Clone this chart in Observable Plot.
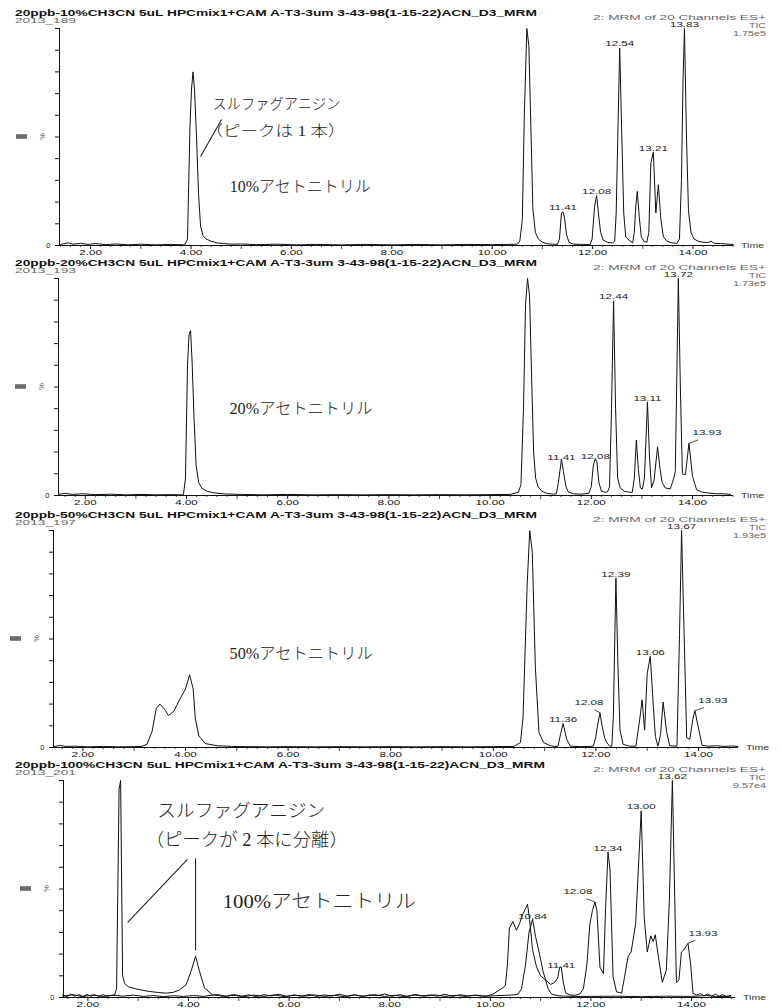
<!DOCTYPE html>
<html>
<head>
<meta charset="utf-8">
<script src="https://cdn.jsdelivr.net/npm/d3@7"></script>
<script src="https://cdn.jsdelivr.net/npm/@observablehq/plot@0.6"></script>
<style>
  html, body { margin: 0; padding: 0; background: #fff; }
  #chart { position: relative; width: 782px; height: 1008px; overflow: hidden; }
  .panel { position: absolute; left: 0; width: 782px; }
</style>
</head>
<body>
<div id="chart"></div>
<script>
// ---------- run headers ----------
const titles = [
  "20ppb-10%CH3CN 5uL HPCmix1+CAM A-T3-3um 3-43-98(1-15-22)ACN_D3_MRM",
  "20ppb-20%CH3CN 5uL HPCmix1+CAM A-T3-3um 3-43-98(1-15-22)ACN_D3_MRM",
  "20ppb-50%CH3CN 5uL HPCmix1+CAM A-T3-3um 3-43-98(1-15-22)ACN_D3_MRM",
  "20ppb-100%CH3CN 5uL HPCmix1+CAM A-T3-3um 3-43-98(1-15-22)ACN_D3_MRM"
];
const runIds = ["2013_189", "2013_193", "2013_197", "2013_201"];
const ticMax = ["1.75e5", "1.73e5", "1.93e5", "9.57e4"];
const solvents = ["10%アセトニトリル", "20%アセトニトリル", "50%アセトニトリル", "100%アセトニトリル"];
const xTickLabels = [2, 4, 6, 8, 10, 12, 14];

// ---------- TIC traces: [retention time (min), relative intensity (%)] ----------
const tic10 = [
  [1.40,0.5],[1.55,1.2],[1.65,0.6],[1.80,1.0],[1.95,0.5],[2.10,0.9],[2.30,0.4],[2.50,0.7],[2.75,0.3],[3.00,0.6],[3.30,0.3],[3.60,0.5],[3.88,0.3],
  [3.93,3],[3.98,55],[4.01,72],[4.04,80],[4.07,72],[4.11,50],[4.15,24],[4.19,9],[4.24,4.5],[4.30,3],[4.40,2],[4.52,1.2],[4.65,0.9],[4.80,0.6],
  [5.00,0.7],[5.30,0.4],[5.70,0.6],[6.10,0.3],[6.50,0.5],[7.00,0.3],[7.50,0.5],[8.00,0.3],[8.50,0.5],[9.00,0.3],[9.50,0.5],[10.00,0.4],[10.30,0.5],[10.50,0.6],
  [10.55,2],[10.60,12],[10.64,60],[10.69,100],[10.73,92],[10.77,55],[10.81,17],[10.86,6],[10.92,3],[11.00,1.5],[11.10,0.8],[11.20,0.6],[11.30,0.5],
  [11.34,3],[11.38,15],[11.41,15.5],[11.44,13],[11.48,5],[11.53,1.5],[11.62,0.6],[11.80,0.5],[11.95,0.4],
  [11.99,3],[12.04,18],[12.08,23],[12.12,14],[12.16,6],[12.21,2.5],[12.30,1.4],[12.40,1.2],
  [12.44,2],[12.47,15],[12.50,48],[12.54,91],[12.58,52],[12.62,15],[12.66,4],[12.72,2.5],[12.80,1.2],
  [12.83,6],[12.86,18],[12.89,25],[12.93,13],[12.97,4],[13.02,2],[13.08,1.5],
  [13.12,6],[13.16,38],[13.21,43],[13.26,15],[13.31,28],[13.36,12],[13.41,4],[13.48,2],[13.58,1.2],[13.68,1],
  [13.73,3],[13.77,30],[13.80,75],[13.83,100],[13.87,50],[13.91,16],[13.96,6],[14.02,3],[14.10,2],[14.20,1.5],[14.30,1.4],[14.36,2.0],[14.42,1.0],[14.55,0.9],[14.70,0.6],[14.80,0.5]
];

const tic20 = [
  [1.47,0.5],[1.60,1.0],[1.75,0.5],[1.95,0.8],[2.20,0.4],[2.50,0.6],[2.80,0.3],[3.10,0.5],[3.40,0.3],[3.70,0.4],[3.90,0.3],
  [3.94,0.5],[3.98,8],[4.02,60],[4.05,74],[4.08,76],[4.11,62],[4.15,35],[4.19,14],[4.24,6],[4.30,3.5],[4.40,2],[4.55,1.2],[4.75,0.7],
  [5.10,0.5],[5.50,0.3],[6.00,0.5],[6.50,0.3],[7.00,0.4],[7.50,0.3],[8.00,0.4],[8.50,0.3],[9.00,0.4],[9.50,0.3],[10.00,0.4],[10.40,0.5],
  [10.56,1.5],[10.61,5],[10.66,40],[10.70,88],[10.74,100],[10.78,92],[10.82,55],[10.86,20],[10.90,8],[10.95,4],[11.02,2],[11.12,1],[11.25,0.6],
  [11.31,0.8],[11.35,6],[11.41,16.7],[11.45,11],[11.50,4],[11.55,1.5],[11.65,0.8],[11.80,0.6],[11.95,1],
  [12.00,4],[12.04,14],[12.08,17],[12.11,15.5],[12.15,6],[12.20,2],[12.26,1.5],[12.32,1.6],
  [12.36,4],[12.40,40],[12.44,89.7],[12.48,40],[12.52,8],[12.57,3.5],[12.65,2],[12.75,1.5],[12.81,1.5],
  [12.85,8],[12.89,25.5],[12.93,12],[12.97,3.5],[13.01,3],
  [13.05,8],[13.11,43],[13.15,18],[13.19,3.5],[13.24,7],[13.31,22.5],[13.36,12],[13.40,6],[13.46,3.5],[13.56,3],
  [13.63,8],[13.66,11],[13.69,55],[13.72,100],[13.76,50],[13.80,10],[13.86,9.6],[13.93,24],[14.00,8.8],[14.08,2.7],[14.20,1.5],[14.30,1.2],[14.45,0.8],[14.60,0.8],[14.75,0.5]
];

const tic50 = [
  [1.43,0.4],[1.55,1.0],[1.65,0.5],[1.85,0.6],[2.10,0.3],[2.40,0.5],[2.70,0.3],[3.00,0.4],[3.15,0.5],
  [3.25,1.5],[3.35,7.5],[3.43,18],[3.50,20],[3.58,18],[3.67,14.8],[3.77,16.6],[3.90,22.7],[4.00,27],[4.08,33.5],[4.15,27],[4.19,13.6],[4.26,5.3],[4.39,1.8],[4.62,0.8],[4.90,0.5],
  [5.20,0.4],[5.60,0.3],[6.00,0.4],[6.50,0.3],[7.00,0.4],[7.50,0.3],[8.00,0.4],[8.50,0.3],[9.00,0.4],[9.50,0.3],[10.00,0.4],[10.40,0.5],
  [10.53,2.3],[10.58,14],[10.66,75],[10.71,100],[10.76,90],[10.82,37],[10.89,7],[10.98,2.3],[11.11,0.8],[11.20,0.5],
  [11.26,0.6],[11.31,6],[11.36,11],[11.40,7],[11.43,3.8],[11.50,0.6],[11.70,0.4],[11.90,0.5],
  [11.95,0.6],[12.00,5],[12.03,10],[12.08,16],[12.12,10],[12.17,4.5],[12.21,2.3],[12.27,0.6],
  [12.31,0.5],[12.34,14],[12.39,78],[12.43,37],[12.47,8],[12.53,1.5],[12.65,0.6],[12.78,0.6],
  [12.86,14],[12.90,22],[12.95,8],[13.00,34],[13.06,42],[13.12,19],[13.16,5],[13.21,0.6],[13.26,6],[13.31,21],[13.38,7],[13.44,0.8],[13.58,0.6],
  [13.63,52],[13.67,100],[13.72,52],[13.77,4.5],[13.83,3.8],[13.89,13],[13.93,17],[13.99,10],[14.07,1],[14.20,0.6],[14.35,0.8],[14.50,0.5],[14.65,0.7],[14.77,0.5]
];

const tic100 = [
  [1.50,1.2],[1.58,0.4],[1.66,1.5],[1.74,0.6],[1.82,1.3],[1.90,0.5],[1.98,1.4],[2.06,0.6],[2.14,1.2],[2.22,0.5],[2.30,1.3],[2.38,0.6],[2.46,1.0],
  [2.53,1.2],[2.57,4],[2.62,96],[2.65,100],[2.67,55],[2.69,10],[2.73,6.5],[2.80,5],[2.90,4.3],[3.05,3.5],[3.22,2.8],[3.40,2.3],[3.56,2],[3.70,2.4],[3.82,3.5],[3.95,5.8],
  [4.05,12],[4.14,19],[4.22,12],[4.32,4.3],[4.48,1.2],
  [4.60,1.3],[4.75,0.5],[4.90,1.4],[5.05,0.6],[5.20,1.2],[5.35,0.4],[5.50,1.3],[5.65,0.7],[5.80,1.5],[5.95,0.5],[6.10,1.2],[6.25,0.6],[6.40,1.4],[6.55,0.5],[6.70,1.2],[6.85,0.7],
  [7.00,1.5],[7.15,0.6],[7.30,1.3],[7.45,0.5],[7.60,1.2],[7.75,0.8],[7.90,1.6],[8.05,0.6],[8.20,1.3],[8.35,0.5],[8.50,1.4],[8.65,0.7],[8.80,1.2],[8.95,0.6],[9.10,1.5],[9.25,0.5],
  [9.40,1.3],[9.55,0.7],[9.70,1.0],[9.85,0.6],[9.95,0.8],
  [10.05,1.5],[10.15,3],[10.25,4.5],[10.30,5.5],[10.34,15],[10.38,32],[10.45,35],[10.52,31],[10.58,34],[10.64,38],[10.70,41],[10.74,43],[10.78,36],[10.84,22],[10.92,14],[11.00,10],
  [11.10,8],[11.20,6],[11.28,7],[11.34,9],[11.38,14],[11.41,14],[11.45,7],[11.50,2],[11.58,1.2],[11.68,1],[11.78,1.6],
  [11.85,4],[11.92,15],[11.98,34],[12.03,40],[12.08,44],[12.12,40],[12.18,14],[12.25,11],[12.29,40],[12.34,67],[12.38,59],[12.44,9.6],[12.51,2.6],[12.61,2],
  [12.67,9.6],[12.74,19],[12.80,21],[12.89,34],[13.00,86],[13.06,37],[13.12,21],[13.19,28.4],[13.24,25.8],[13.28,28.9],[13.34,19],[13.42,7],[13.50,12.7],[13.56,45],
  [13.62,100],[13.70,7],[13.75,8],[13.80,21],[13.85,22],[13.93,25],[13.98,16],[14.03,2],
  [14.10,1.2],[14.18,1.8],[14.25,0.8],[14.32,1.6],[14.40,0.7],[14.48,1.5],[14.55,0.6],[14.62,1.3],[14.70,0.5],[14.78,0.9]
];

// second trace of the 100% run (overlaid channel)
const tic100b = [
  [1.50,0.6],[1.70,1.3],[1.90,0.4],[2.10,1.2],[2.30,0.5],[2.50,1.0],[2.70,0.6],[2.90,1.1],[3.10,0.5],[3.30,0.9],[3.50,0.4],[3.70,0.8],[3.90,0.5],[4.10,0.9],[4.30,0.5],
  [4.50,1.2],[4.70,0.5],[4.90,1.0],[5.10,0.4],[5.30,1.1],[5.50,0.5],[5.70,1.2],[5.90,0.4],[6.10,1.0],[6.30,0.6],[6.50,1.2],[6.70,0.5],[6.90,1.0],[7.10,0.4],[7.30,1.1],
  [7.50,0.6],[7.70,1.3],[7.90,0.5],[8.10,1.0],[8.30,0.4],[8.50,1.1],[8.70,0.6],[8.90,1.2],[9.10,0.5],[9.30,1.0],[9.50,0.5],[9.70,1.1],[9.90,0.6],[10.10,0.8],[10.30,1.0],
  [10.45,1.2],[10.55,1.5],[10.62,4],[10.70,15],[10.77,30],[10.84,36],[10.90,28],[10.96,22],[11.05,12],[11.15,4],[11.22,1.5],[11.35,0.8],[11.50,0.6],[11.70,0.5],
  [12.00,0.5],[12.50,0.6],[13.00,0.4],[13.50,0.6],[14.00,0.5],[14.30,0.9],[14.50,0.4],[14.78,0.6]
];

// labelled retention times
const peaks10 = [11.41, 12.08, 12.54, 13.21, 13.83];
const peaks20 = [11.41, 12.08, 12.44, 13.11, 13.72, 13.93];
const peaks50 = [11.36, 12.08, 12.39, 13.06, 13.67, 13.93];
const peaks100 = [10.84, 11.41, 12.08, 12.34, 13.00, 13.62, 13.93];

// ---------- layout ----------
const W = 782, H = 263, MT = 28, MB = 18;
const plotH = H - MT - MB;              // 217 px for 0–100 %
const pxPct = plotH / 100;
const frames = [
  {top: 0,   left: 59, right: 733, x4: 190.5, ppm: 50.2},
  {top: 250, left: 58, right: 733, x4: 186,   ppm: 50.6},
  {top: 502, left: 53, right: 738, x4: 185,   ppm: 51.3},
  {top: 752, left: 63, right: 735, x4: 188,   ppm: 50.3}
];
// label offsets in px (shifted labels get a leader line back to the apex)
const labelShift = {
  "1:13.93": [18, -7],
  "2:12.08": [-11, -6],
  "2:13.93": [18, -6],
  "3:12.08": [-17, -6.5],
  "3:13.93": [15, -6],
  "3:10.84": [0, 1],
  "3:11.41": [0, 2],
  "1:11.41": [0, 2],
  "1:12.08": [0, 2]
};
// free-text notes: panel, text, anchor (min, %), font size, drawn width
const notes = [
  {p: 0, text: "スルファグアニジン", t: 4.43, v: 65.0, size: 15, w: 128},
  {p: 0, text: "（ピークは 1 本）", t: 4.29, v: 52.5, size: 15, w: 140},
  {p: 0, text: solvents[0], t: 4.77, v: 27.2, size: 16, w: 141},
  {p: 1, text: solvents[1], t: 4.85, v: 40.1, size: 16, w: 143},
  {p: 2, text: solvents[2], t: 4.86, v: 43.3, size: 16, w: 143},
  {p: 3, text: "スルファグアニジン", t: 3.38, v: 85.7, size: 18, w: 168},
  {p: 3, text: "（ピークが 2 本に分離）", t: 3.15, v: 72.4, size: 18, w: 202},
  {p: 3, text: solvents[3], t: 4.68, v: 44.2, size: 19, w: 193}
];
const pointers = [
  {p: 0, t1: 4.19, v1: 41.0, t2: 4.61, v2: 58.1},
  {p: 3, t1: 2.79, v1: 34.6, t2: 3.98, v2: 63.6},
  {p: 3, t1: 4.14, v1: 21.7, t2: 4.14, v2: 64.1}
];

const panels = [
  {traces: [tic10], peaks: peaks10},
  {traces: [tic20], peaks: peaks20},
  {traces: [tic50], peaks: peaks50},
  {traces: [tic100, tic100b], peaks: peaks100}
];

const sans = "'Liberation Sans', Arial, Helvetica, sans-serif";
const mincho = "'Liberation Serif', 'Noto Sans CJK JP', serif";
const host = document.getElementById("chart");

panels.forEach((panel, i) => {
  const f = frames[i];
  const tL = 4 + (f.left - f.x4) / f.ppm;
  const tR = 4 + (f.right - f.x4) / f.ppm;

  const rows = panel.traces.flatMap((tr, k) => tr.map(([t, v]) => ({t, v, k})));
  const peakRows = panel.peaks.map(t => {
    const v = d3.max(panel.traces, tr => { const hit = tr.find(d => d[0] === t); return hit ? hit[1] : undefined; });
    const s = labelShift[i + ":" + t.toFixed(2)];
    const dx = s ? s[0] : 0, dy = s ? s[1] : 0;
    return {t, v, label: t.toFixed(2),
      lt: t + dx / f.ppm, lv: v + (4 - dy) / pxPct,
      lead: !!s && s[0] !== 0,
      et: t + 0.5 * dx / f.ppm, ev: v + (-0.5 * dy) / pxPct};
  });

  const minor = d3.range(Math.ceil(tL * 5), Math.floor(tR * 5) + 1).map(n => n / 5).filter(x => Math.abs(x - Math.round(x)) > 1e-6);
  const oddMajor = d3.range(Math.ceil(tL), Math.floor(tR) + 1).filter(x => x % 2 === 1);

  const marks = [
    Plot.ruleX(minor, {x: d => d, y1: 0, y2: -0.95, stroke: "#222", strokeWidth: 0.8}),
    Plot.ruleX(oddMajor, {x: d => d, y1: 0, y2: -1.85, stroke: "#222", strokeWidth: 0.8}),
    Plot.ruleY([0], {stroke: "#111", strokeWidth: 1}),
    Plot.ruleX([tL], {y1: 0, y2: 100, stroke: "#111", strokeWidth: 1}),
    Plot.line(rows, {x: "t", y: "v", z: "k", stroke: "#111", strokeWidth: 1, curve: "linear"}),
    Plot.link(peakRows.filter(d => d.lead), {x1: "t", y1: "v", x2: "et", y2: "ev", stroke: "#222", strokeWidth: 0.8}),
    Plot.text(peakRows, {x: "lt", y: "lv", text: "label", fontSize: 7.5, fill: "#222", fontFamily: sans}),
    ...pointers.filter(d => d.p === i).map(d => Plot.link([d], {x1: "t1", y1: "v1", x2: "t2", y2: "v2", stroke: "#222", strokeWidth: 1.1})),
    ...notes.filter(d => d.p === i).map(d => Plot.text([d], {x: "t", y: "v", text: "text", textAnchor: "start", fontSize: d.size, fontFamily: mincho, fontWeight: 300, fill: "#222"}))
  ];

  const svg = Plot.plot({
    width: W, height: H,
    marginTop: MT, marginBottom: MB, marginLeft: f.left, marginRight: W - f.right,
    style: {background: "transparent", overflow: "visible", fontFamily: sans, fontSize: "7.5px", color: "#111"},
    x: {domain: [tL, tR], ticks: xTickLabels, tickFormat: d => d.toFixed(2), tickSize: 4, tickPadding: 0.5, label: null},
    y: {domain: [0, 100], ticks: d3.range(0, 101, 10), tickSize: 4, tickPadding: 5, tickFormat: d => d === 0 ? "0" : "", label: null},
    marks
  });

  const wrap = document.createElement("div");
  wrap.className = "panel";
  wrap.style.top = f.top + "px";
  wrap.style.height = H + "px";
  wrap.appendChild(svg);
  host.appendChild(wrap);

  const s = d3.select(svg);
  const base = H - MB;

  // headers
  const hdr = s.append("g").attr("font-family", sans).attr("text-anchor", "start");
  hdr.append("text").attr("x", 15).attr("y", 15.5).attr("font-weight", "bold").attr("font-size", 9.5).attr("fill", "#111")
    .attr("textLength", i === 3 ? 530 : 522).attr("lengthAdjust", "spacingAndGlyphs").text(titles[i]);
  hdr.append("text").attr("x", 15).attr("y", 23).attr("font-size", 7.5).attr("fill", "#666")
    .attr("textLength", 61).attr("lengthAdjust", "spacingAndGlyphs").text(runIds[i]);
  hdr.append("text").attr("x", 766).attr("y", 20).attr("text-anchor", "end").attr("font-size", 7.5).attr("fill", "#666")
    .attr("textLength", 173).attr("lengthAdjust", "spacingAndGlyphs").text("2: MRM of 20 Channels ES+");
  hdr.append("text").attr("x", 766).attr("y", 27.5).attr("text-anchor", "end").attr("font-size", 7.5).attr("fill", "#666")
    .attr("textLength", 17).attr("lengthAdjust", "spacingAndGlyphs").text("TIC");
  hdr.append("text").attr("x", 766).attr("y", 35.5).attr("text-anchor", "end").attr("font-size", 7.5).attr("fill", "#666")
    .attr("textLength", 33).attr("lengthAdjust", "spacingAndGlyphs").text(ticMax[i]);
  hdr.append("text").attr("x", f.right + 8).attr("y", base + 3).attr("font-size", 7.5).attr("fill", "#333")
    .attr("textLength", 23).attr("lengthAdjust", "spacingAndGlyphs").text("Time");

  // y-axis unit and series swatch
  const yMid = MT + plotH / 2;
  hdr.append("rect").attr("x", f.left - 43).attr("y", yMid - 2.3).attr("width", 11).attr("height", 4.6).attr("fill", "#6b6b6b");
  hdr.append("text").attr("transform", `translate(${f.left - 14.5},${yMid}) rotate(-90)`).attr("text-anchor", "middle")
    .attr("font-size", 7.5).attr("fill", "#555").text("%");

  // widen the small numeric labels (tick and peak labels) and fit the notes
  s.selectAll("text").each(function () {
    const txt = this.textContent;
    if (/^\d+\.\d\d$/.test(txt)) {
      const w = this.getComputedTextLength();
      this.setAttribute("textLength", (w * 1.55).toFixed(1));
      this.setAttribute("lengthAdjust", "spacingAndGlyphs");
    }
    const note = notes.find(n => n.p === i && n.text === txt);
    if (note) {
      this.setAttribute("textLength", note.w);
      this.setAttribute("lengthAdjust", "spacingAndGlyphs");
    }
  });
});
</script>
</body>
</html>
